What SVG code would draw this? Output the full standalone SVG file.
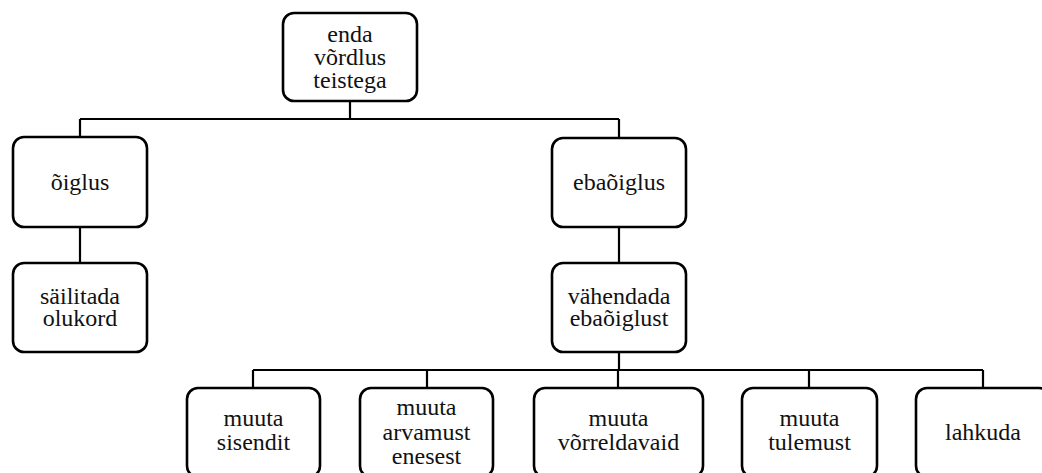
<svg xmlns="http://www.w3.org/2000/svg" width="1042" height="473" viewBox="0 0 1042 473">
<style>
.box{fill:#fff;stroke:#000;stroke-width:2.6}
.lbl{fill:#111;text-anchor:middle}
.con{fill:none;stroke:#000;stroke-width:2.2}
</style>
<rect width="1042" height="473" fill="#fff"/>
<g id="connectors">
<path class="con" d="M350 101V119M80 119H619M80 119V137M619 119V138"/>
<path class="con" d="M80 227V263M619 227V263"/>
<path class="con" d="M619 352V370M253 370H983M253 370V388M427 370V388M618 370V388M809 370V388M983 370V388"/>
</g>
<g id="nodes" font-family="Liberation Serif, Times New Roman, serif" font-size="24" text-anchor="middle">
<g id="n_top"><rect class="box" x="283" y="13" width="134" height="88" rx="11"/>
<text class="lbl" x="350" y="42">enda</text><text class="lbl" x="350" y="65">võrdlus</text><text class="lbl" x="350" y="88">teistega</text></g>
<g id="n_oiglus"><rect class="box" x="13" y="137" width="134" height="90" rx="11"/>
<text class="lbl" x="80" y="190">õiglus</text></g>
<g id="n_sailitada"><rect class="box" x="13" y="263" width="134" height="89" rx="11"/>
<text class="lbl" x="80" y="304">säilitada</text><text class="lbl" x="80" y="326">olukord</text></g>
<g id="n_ebaoiglus"><rect class="box" x="552" y="138" width="134" height="89" rx="11"/>
<text class="lbl" x="619" y="190">ebaõiglus</text></g>
<g id="n_vahendada"><rect class="box" x="552" y="263" width="134" height="89" rx="11"/>
<text class="lbl" x="619" y="304">vähendada</text><text class="lbl" x="619" y="326">ebaõiglust</text></g>
<g id="n_sisend"><rect class="box" x="187" y="388" width="133" height="89" rx="11"/>
<text class="lbl" x="253.5" y="426">muuta</text><text class="lbl" x="253.5" y="450">sisendit</text></g>
<g id="n_arvamus"><rect class="box" x="360" y="388" width="133" height="89" rx="11"/>
<text class="lbl" x="426.5" y="415">muuta</text><text class="lbl" x="426.5" y="440">arvamust</text><text class="lbl" x="426.5" y="464">enesest</text></g>
<g id="n_vorrel"><rect class="box" x="534" y="388" width="169" height="89" rx="11"/>
<text class="lbl" x="618.5" y="426">muuta</text><text class="lbl" x="618.5" y="450">võrreldavaid</text></g>
<g id="n_tulem"><rect class="box" x="742" y="388" width="135" height="89" rx="11"/>
<text class="lbl" x="809.5" y="426">muuta</text><text class="lbl" x="809.5" y="450">tulemust</text></g>
<g id="n_lahkuda"><rect class="box" x="916" y="388" width="134" height="89" rx="11"/>
<text class="lbl" x="983" y="440">lahkuda</text></g>
</g>
</svg>
